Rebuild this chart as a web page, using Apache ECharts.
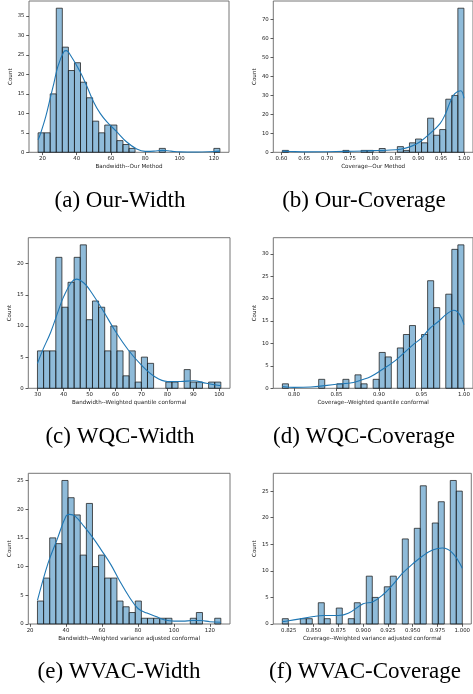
<!DOCTYPE html>
<html><head><meta charset="utf-8">
<script src="https://cdn.jsdelivr.net/npm/echarts@6/dist/echarts.min.js"></script>
<style>html,body{margin:0;padding:0;background:#fff}#c{width:473px;height:694px}</style>
</head><body><div id="c"></div>
<script>
// ---------- DATA ----------
// (a) Bandwidth -- Our Method
const aRange = [17.5, 123.5];
const aCounts = [5,5,15,37,27,21,23,18,14,8,5,7,7,3,2,1,0,0,0,0,1,0,0,0,0,0,0,0,0,1];
const aKde = [[17.5,3.2],[19,4.9],[22,9.2],[24.8,14.3],[26.7,17.7],[29,22],[32.5,25.8],[34,26.1],[36.3,25],[42,20.7],[46,16.9],[49.8,13],[53.7,10],[57.5,7.9],[63.3,5.3],[69,2.7],[75,0.85],[80,0.25],[85,0.3],[90,0.5],[95,0.3],[100,0.1],[110,0.05],[120,0.2],[123.5,0.3]];
const aXTicks = [20,40,60,80,100,120];
const aYTicks = [0,5,10,15,20,25,30,35];

// (b) Coverage -- Our Method
const bRange = [0.602, 1.0];
const bCounts = [1,0,0,0,0,0,0,0,0,0,1,0,0,1,1,0,2,0,0,3,1,5,7,5,18,9,12,28,30,76];
const bKde = [[0.602,0.6],[0.62,0.4],[0.66,0.2],[0.70,0.3],[0.74,0.5],[0.78,0.7],[0.80,0.9],[0.83,1.1],[0.861,1.6],[0.883,3],[0.904,5.6],[0.926,10],[0.948,15.3],[0.96,20.5],[0.97,26.7],[0.98,31],[0.993,32.5],[1.0,28.5]];
const bXTicks = [0.60,0.65,0.70,0.75,0.80,0.85,0.90,0.95,1.00];
const bYTicks = [0,10,20,30,40,50,60,70];

// (c) Bandwidth -- Weighted quantile conformal
const cRange = [29.9, 100.6];
const cCounts = [6,6,6,21,13,17,21,23,11,14,13,6,10,6,2,6,1,5,4,0,0,1,1,0,3,1,1,0,1,1];
const cKde = [[29.9,4],[32,6.2],[35,9],[38,12.5],[40,14.7],[43,17],[45,17.5],[48,16.8],[50,15.8],[55,12.6],[60,9.1],[65,6.1],[70,3.7],[75,1.9],[80,1.1],[85,1.1],[90,1.2],[95,0.8],[100.6,0.4]];
const cXTicks = [30,40,50,60,70,80,90,100];
const cYTicks = [0,5,10,15,20];

// (d) Coverage -- Weighted quantile conformal
const dRange = [0.7864, 1.0];
const dCounts = [1,0,0,0,0,0,2,0,0,1,2,0,3,1,0,2,8,7,0,9,12,14,0,12,24,18,0,21,31,32];
const dKde = [[0.7864,0.4],[0.80,0.2],[0.82,0.3],[0.85,0.9],[0.87,1.3],[0.88,1.9],[0.89,2.6],[0.90,3.7],[0.92,6.3],[0.94,9.7],[0.95,11.2],[0.96,13.4],[0.97,14.9],[0.98,16.6],[0.988,17.4],[0.995,16.5],[1.0,14.2]];
const dXTicks = [0.80,0.85,0.90,0.95,1.00];
const dYTicks = [0,5,10,15,20,25,30];

// (e) Bandwidth -- Weighted variance adjusted conformal
const eRange = [24.1, 126.1];
const eCounts = [4,8,15,14,25,22,19,12,21,10,12,8,8,4,3,2,4,1,1,1,1,1,0,0,0,1,2,0,0,1];
const eKde = [[24.1,4.1],[30,10.6],[35,14.7],[40,18.8],[42,19.1],[45,18.8],[50,17],[55,15],[60,12.7],[65,10.3],[70,7.4],[75,4.8],[80,2.7],[85,1.9],[90,1.3],[95,0.7],[100,0.5],[105,0.5],[110,0.6],[115,0.6],[120,0.4],[126.1,0.3]];
const eXTicks = [20,40,60,80,100,120];
const eYTicks = [0,5,10,15,20,25];

// (f) Coverage -- Weighted variance adjusted conformal
const fRange = [0.8185, 1.0];
const fCounts = [1,0,0,1,1,0,4,1,0,3,0,1,4,0,9,5,0,7,9,0,16,0,18,26,0,19,23,0,27,25];
const fKde = [[0.8185,0.45],[0.825,0.6],[0.85,1.4],[0.86,1.6],[0.875,1.6],[0.885,2],[0.9,3.8],[0.91,4.2],[0.92,5.5],[0.93,7.4],[0.94,9.6],[0.95,11.3],[0.96,12.8],[0.97,13.9],[0.98,14.3],[0.99,13.4],[1.0,10.5]];
const fXTicks = [0.825,0.850,0.875,0.900,0.925,0.950,0.975,1.000];
const fYTicks = [0,5,10,15,20,25];

const xLabels = ['Bandwidth--Our Method','Coverage--Our Method','Bandwidth--Weighted quantile conformal','Coverage--Weighted quantile conformal','Bandwidth--Weighted variance adjusted conformal','Coverage--Weighted variance adjusted conformal'];
const captions = ['(a) Our-Width','(b) Our-Coverage','(c) WQC-Width','(d) WQC-Coverage','(e) WVAC-Width','(f) WVAC-Coverage'];
const decimals = [0,2,0,2,0,3];

// ---------- LAYOUT ----------
const layout = [
  {left:29,   top:1,     width:200,   height:151.3, capX:120, capY:201},
  {left:273.3,top:1,     width:200,   height:151.3, capX:364, capY:201},
  {left:28.3, top:237.7, width:201.7, height:150.6, capX:120, capY:437},
  {left:273.3,top:237.7, width:201.2, height:150.6, capX:364, capY:437},
  {left:28.3, top:473.3, width:201.7, height:150.7, capX:119, capY:672},
  {left:273.3,top:473.3, width:201.2, height:150.7, capX:365, capY:672}
];

const panels = [
  {range:aRange,counts:aCounts,kde:aKde,xt:aXTicks,yt:aYTicks},
  {range:bRange,counts:bCounts,kde:bKde,xt:bXTicks,yt:bYTicks},
  {range:cRange,counts:cCounts,kde:cKde,xt:cXTicks,yt:cYTicks},
  {range:dRange,counts:dCounts,kde:dKde,xt:dXTicks,yt:dYTicks},
  {range:eRange,counts:eCounts,kde:eKde,xt:eXTicks,yt:eYTicks},
  {range:fRange,counts:fCounts,kde:fKde,xt:fXTicks,yt:fYTicks}
];

const FONT = 'DejaVu Sans';
const grid = [], xAxis = [], yAxis = [], series = [], graphic = [];
panels.forEach((p, i) => {
  const L = layout[i];
  const n = p.counts.length;
  const w = (p.range[1] - p.range[0]) / n;
  const span = p.range[1] - p.range[0];
  const maxC = Math.max(...p.counts);
  grid.push({left:L.left, top:L.top, width:L.width, height:L.height, show:true, borderColor:'#666', borderWidth:0.9, backgroundColor:'transparent'});
  xAxis.push({
    type:'value', gridIndex:i, min:p.range[0]-0.05*span, max:p.range[1]+0.05*span,
    splitLine:{show:false},
    axisLine:{show:false},
    axisTick:{show:true, customValues:p.xt, length:2.8, lineStyle:{color:'#333', width:0.8}},
    axisLabel:{customValues:p.xt, formatter:v=>v.toFixed(decimals[i]), fontSize:5.4, color:'#222', margin:4.2, fontFamily:FONT},
    name:xLabels[i], nameLocation:'middle', nameGap:11.5,
    nameTextStyle:{fontSize:5.6, color:'#222', fontFamily:FONT}
  });
  yAxis.push({
    type:'value', gridIndex:i, min:0, max:maxC*1.05,
    splitLine:{show:false},
    axisLine:{show:false},
    axisTick:{show:true, customValues:p.yt, length:2.8, lineStyle:{color:'#333', width:0.8}},
    axisLabel:{customValues:p.yt, formatter:v=>String(v), fontSize:5.4, color:'#222', margin:4.5, fontFamily:FONT},
    name:'Count', nameLocation:'middle', nameGap:13.5, nameRotate:90,
    nameTextStyle:{fontSize:5.6, color:'#222', fontFamily:FONT}
  });
  const bins = [];
  p.counts.forEach((c, k) => { if (c > 0) bins.push([p.range[0]+k*w, p.range[0]+(k+1)*w, c]); });
  series.push({
    type:'custom', xAxisIndex:i, yAxisIndex:i, data:bins, encode:{x:[0,1], y:2},
    renderItem:(params, api) => {
      const p0 = api.coord([api.value(0), 0]);
      const p1 = api.coord([api.value(1), api.value(2)]);
      return {type:'rect', shape:{x:p0[0], y:p1[1], width:p1[0]-p0[0], height:p0[1]-p1[1]},
        style:{fill:'rgba(31,119,180,0.5)', stroke:'rgba(30,30,30,0.85)', lineWidth:0.9}};
    },
    silent:true, animation:false
  });
  series.push({
    type:'line', xAxisIndex:i, yAxisIndex:i, data:p.kde, smooth:0.4, showSymbol:false,
    lineStyle:{color:'#1f77b4', width:1.1}, silent:true, animation:false, z:5
  });
  graphic.push({type:'text', x:L.capX, y:L.capY, silent:true,
    style:{text:captions[i], fill:'#000', fontSize:23, fontFamily:'Liberation Serif', align:'center', verticalAlign:'middle'}});
});

const chart = echarts.init(document.getElementById('c'));
chart.setOption({animation:false, backgroundColor:'#fff', grid, xAxis, yAxis, series, graphic});
</script>
</body></html>
